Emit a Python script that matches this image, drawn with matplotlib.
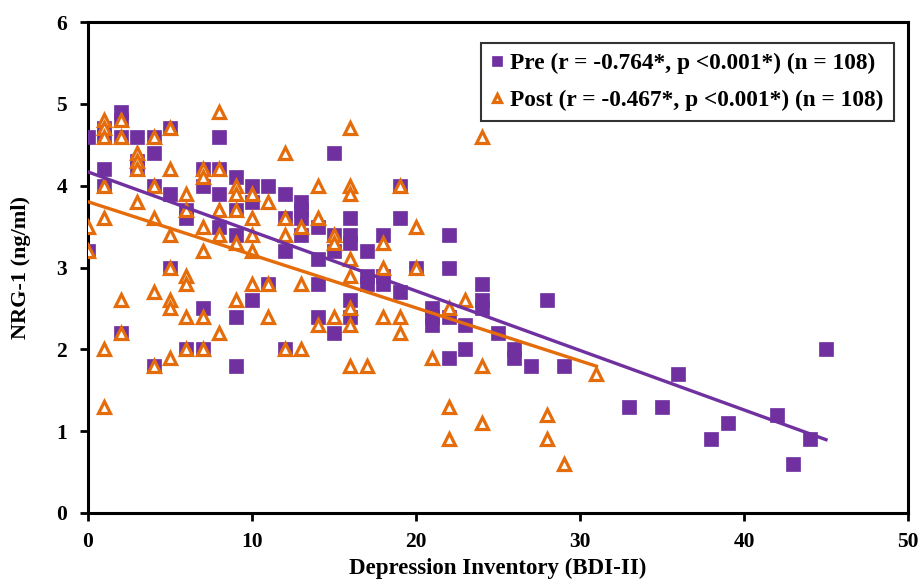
import numpy as np
import matplotlib
matplotlib.use("Agg")
import matplotlib.pyplot as plt

# Pre (purple squares)
pre_x = [0, 0,
         1, 1, 1, 1,
         2, 2, 2, 2,
         3, 3, 3,
         4, 4, 4, 4,
         5, 5, 5,
         6, 6, 6,
         7, 7, 7, 7,
         8, 8, 8, 8,
         9, 9, 9, 9, 9,
         10, 10, 10,
         11, 11,
         12, 12, 12, 12,
         13, 13, 13, 13,
         14, 14, 14, 14,
         15, 15, 15, 15,
         16, 16, 16, 16, 16,
         17, 17, 17,
         18, 18, 18,
         19, 19, 19,
         20,
         21, 21, 21,
         22, 22, 22, 22,
         23, 23,
         24, 24, 24,
         25,
         26, 26,
         27, 28, 29,
         33, 35, 36, 38, 39, 42, 43, 44, 45]
pre_y = [4.6, 3.2,
         4.2, 4.0, 4.7, 4.6,
         4.9, 4.8, 4.6, 2.2,
         4.6, 4.3, 4.2,
         4.6, 4.4, 4.0, 1.8,
         4.7, 3.9, 3.0,
         3.7, 3.6, 2.0,
         4.2, 4.0, 2.5, 2.0,
         4.6, 4.2, 3.9, 3.5,
         4.1, 3.7, 3.4, 2.4, 1.8,
         4.0, 3.8, 2.6,
         4.0, 2.8,
         3.9, 3.6, 3.2, 2.0,
         3.8, 3.7, 3.6, 3.4,
         3.5, 3.1, 2.8, 2.4,
         4.4, 3.4, 3.2, 2.2,
         3.6, 3.4, 3.3, 2.6, 2.4,
         3.2, 2.9, 2.8,
         3.4, 2.9, 2.8,
         4.0, 3.6, 2.7,
         3.0,
         2.5, 2.4, 2.3,
         3.4, 3.0, 2.4, 1.9,
         2.3, 2.0,
         2.8, 2.6, 2.5,
         2.2,
         2.0, 1.9,
         1.8, 2.6, 1.8,
         1.3, 1.3, 1.7, 0.9, 1.1, 1.2, 0.6, 0.9, 2.0]

# Post (orange triangles)
post_x = [0, 0,
          1, 1, 1, 1, 1, 1, 1,
          2, 2, 2, 2,
          3, 3, 3, 3,
          4, 4, 4, 4, 4,
          5, 5, 5, 5, 5, 5, 5,
          6, 6, 6, 6, 6, 6,
          7, 7, 7, 7, 7, 7,
          8, 8, 8, 8, 8,
          9, 9, 9, 9, 9,
          10, 10, 10, 10, 10,
          11, 11, 11,
          12, 12, 12, 12,
          13, 13, 13,
          14, 14, 14,
          15, 15, 15,
          16, 16, 16, 16, 16, 16, 16, 16,
          17,
          18, 18, 18,
          19, 19, 19,
          20, 20,
          21,
          22, 22, 22,
          23,
          24, 24, 24,
          28, 28, 29, 31]
post_y = [3.5, 3.2,
          4.8, 4.7, 4.6, 4.0, 3.6, 2.0, 1.3,
          4.8, 4.6, 2.6, 2.2,
          4.4, 4.3, 4.2, 3.8,
          4.6, 4.0, 3.6, 2.7, 1.8,
          4.7, 4.2, 3.4, 3.0, 2.6, 2.5, 1.9,
          3.9, 3.7, 2.9, 2.8, 2.4, 2.0,
          4.2, 4.1, 3.5, 3.2, 2.4, 2.0,
          4.9, 4.2, 3.7, 3.4, 2.2,
          4.0, 3.9, 3.7, 3.3, 2.6,
          3.9, 3.6, 3.4, 3.2, 2.8,
          3.8, 2.8, 2.4,
          4.4, 3.6, 3.4, 2.0,
          3.5, 2.8, 2.0,
          4.0, 3.6, 2.3,
          3.4, 3.3, 2.4,
          4.7, 4.0, 3.9, 3.1, 2.9, 2.5, 2.3, 1.8,
          1.8,
          3.3, 3.0, 2.4,
          4.0, 2.4, 2.2,
          3.5, 3.0,
          1.9,
          2.5, 1.3, 0.9,
          2.6,
          4.6, 1.8, 1.1,
          1.2, 0.9, 0.6, 1.7]

pre_label = "Pre (r = -0.764*, p <0.001*) (n = 108)"
post_label = "Post (r = -0.467*, p <0.001*) (n = 108)"
x_label = "Depression Inventory (BDI-II)"
y_label = "NRG-1 (ng/ml)"
x_ticks = [0, 10, 20, 30, 40, 50]
y_ticks = [0, 1, 2, 3, 4, 5, 6]

purple = "#7030A0"
orange = "#E46C0A"

plt.rcParams['font.family'] = ['Liberation Serif', 'DejaVu Serif']
plt.rcParams['font.weight'] = 'bold'

fig = plt.figure(figsize=(9.21, 5.82), dpi=100)
ax = fig.add_axes([88/921, 1-513/582, (908-88)/921, (513-22)/582])

pre_x_a = np.array(pre_x, float); pre_y_a = np.array(pre_y, float)
post_x_a = np.array(post_x, float); post_y_a = np.array(post_y, float)

ax.plot(pre_x_a, pre_y_a, linestyle='none', marker='s', markersize=9.5,
        color=purple, markeredgecolor=purple, markeredgewidth=0.5, label=pre_label, zorder=3)
ax.plot(post_x_a, post_y_a, linestyle='none', marker='^', markersize=8.5,
        markerfacecolor='white', markeredgecolor=orange, markeredgewidth=2.3,
        label=post_label, zorder=4)

# regression lines
c1 = np.polyfit(pre_x_a, pre_y_a, 1)
xs1 = np.array([pre_x_a.min(), pre_x_a.max()])
ax.plot(xs1, np.polyval(c1, xs1), color=purple, lw=2.4, zorder=5)
c2 = np.polyfit(post_x_a, post_y_a, 1)
xs2 = np.array([post_x_a.min(), post_x_a.max()])
ax.plot(xs2, np.polyval(c2, xs2), color=orange, lw=2.4, zorder=5)

ax.set_xlim(0, 50)
ax.set_ylim(0, 6)
ax.set_xticks(x_ticks)
ax.set_yticks(y_ticks)
ax.tick_params(axis='both', labelsize=15.5, width=2, length=6, direction='out')
ax.tick_params(axis='x', pad=8)
ax.tick_params(axis='y', pad=9)
for lab in ax.get_xticklabels() + ax.get_yticklabels():
    lab.set_fontweight('bold')
for s in ax.spines.values():
    s.set_linewidth(2.2)
    s.set_color('black')

ax.set_xlabel(x_label, fontsize=16.5, fontweight='bold', labelpad=4)
ax.set_ylabel(y_label, fontsize=16, fontweight='bold', labelpad=18)

leg = ax.legend(loc='upper right', bbox_to_anchor=(0.983, 0.958),
                prop={'weight': 'bold', 'size': 16.8}, frameon=True, fancybox=False,
                handlelength=0.5, handletextpad=0.3, borderpad=0.45, labelspacing=0.65,
                borderaxespad=0.0, markerscale=0.75)
leg.get_frame().set_edgecolor('black')
leg.get_frame().set_linewidth(1.5)

fig.savefig("out.png", dpi=100)
